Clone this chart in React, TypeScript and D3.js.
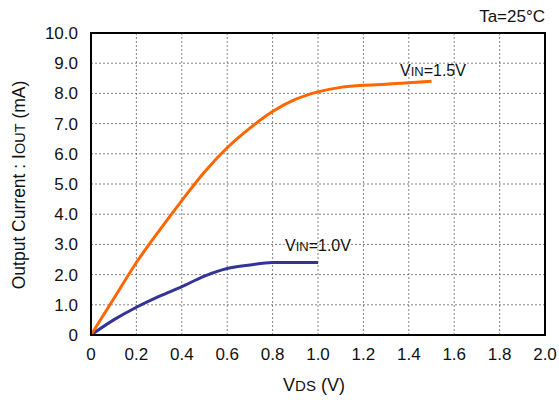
import React from "react";
import * as d3 from "d3";

const vdsHigh = [0, 0.1, 0.2, 0.3, 0.4, 0.5, 0.6, 0.7, 0.8, 0.9, 1.0, 1.1, 1.2, 1.3, 1.4, 1.5];
const ioutHigh = [0, 1.2, 2.4, 3.45, 4.45, 5.4, 6.2, 6.85, 7.4, 7.8, 8.05, 8.2, 8.27, 8.3, 8.35, 8.4];
const vdsLow = [0, 0.1, 0.2, 0.3, 0.4, 0.5, 0.6, 0.7, 0.8, 0.9, 1.0];
const ioutLow = [0, 0.5, 0.92, 1.28, 1.6, 1.95, 2.2, 2.32, 2.4, 2.4, 2.4];
const xTicks = [0, 0.2, 0.4, 0.6, 0.8, 1.0, 1.2, 1.4, 1.6, 1.8, 2.0];
const yTicks = [0, 1, 2, 3, 4, 5, 6, 7, 8, 9, 10];

const W = 559, H = 400;
const L = 91, R = 545, T = 33, B = 335;
const font = "Liberation Sans, Arial, sans-serif";

export default function App() {
  const x = d3.scaleLinear().domain([0, 2]).range([L, R]);
  const y = d3.scaleLinear().domain([0, 10]).range([B, T]);
  const line = d3.line<[number, number]>().x(d => x(d[0])).y(d => y(d[1])).curve(d3.curveMonotoneX);
  const hi = line(vdsHigh.map((v, i) => [v, ioutHigh[i]]) as [number, number][]) || "";
  const lo = line(vdsLow.map((v, i) => [v, ioutLow[i]]) as [number, number][]) || "";
  return (
    <svg width={W} height={H} style={{ position: "absolute", left: 0, top: 0, background: "#fff" }} fontFamily={font}>
      {xTicks.slice(1, -1).map(t => (
        <line key={"gx" + t} x1={x(t)} x2={x(t)} y1={T} y2={B} stroke="#666" strokeWidth={0.8} strokeDasharray="2,2" />
      ))}
      {yTicks.slice(1, -1).map(t => (
        <line key={"gy" + t} x1={L} x2={R} y1={y(t)} y2={y(t)} stroke="#666" strokeWidth={0.8} strokeDasharray="2,2" />
      ))}
      <path d={lo} fill="none" stroke="#333399" strokeWidth={3} />
      <path d={hi} fill="none" stroke="#FF6600" strokeWidth={3} />
      <rect x={L} y={T} width={R - L} height={B - T} fill="none" stroke="#000" strokeWidth={2} />
      {xTicks.map(t => (
        <text key={"tx" + t} x={x(t)} y={B + 25} fontSize={17} textAnchor="middle" fill="#111">
          {t === 0 ? "0" : t.toFixed(1)}
        </text>
      ))}
      {yTicks.map(t => (
        <text key={"ty" + t} x={L - 13} y={y(t) + 6} fontSize={17} textAnchor="end" fill="#111">
          {t === 0 ? "0" : t.toFixed(1)}
        </text>
      ))}
      <text x={(L + R) / 2 - 4} y={391} fontSize={18} textAnchor="middle" fill="#111">
        V<tspan fontSize={15}>DS</tspan> (V)
      </text>
      <text transform={`translate(25,${(T + B) / 2 + 1}) rotate(-90)`} fontSize={17.5} textAnchor="middle" fill="#111">
        Output Current : I<tspan fontSize={14.5}>OUT</tspan> (mA)
      </text>
      <text x={545} y={22} fontSize={17} textAnchor="end" fill="#111">Ta=25°C</text>
      <text x={400} y={76} fontSize={16} fill="#111">
        V<tspan fontSize={13}>IN</tspan>=1.5V
      </text>
      <text x={285} y={251} fontSize={16} fill="#111">
        V<tspan fontSize={13}>IN</tspan>=1.0V
      </text>
    </svg>
  );
}
